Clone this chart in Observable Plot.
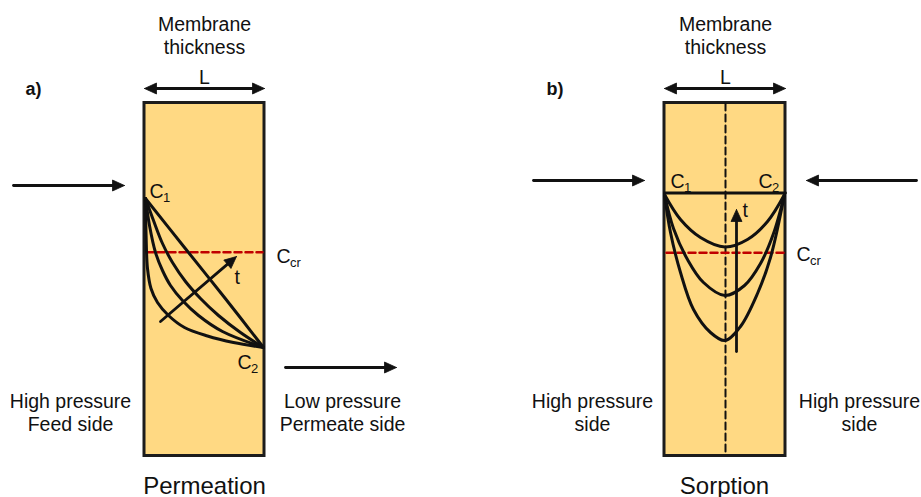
<!DOCTYPE html>
<html>
<head>
<meta charset="utf-8">
<script src="https://cdn.jsdelivr.net/npm/d3@7"></script>
<script src="https://cdn.jsdelivr.net/npm/@observablehq/plot@0.6"></script>
<style>
  html, body { margin: 0; padding: 0; background: #fff; }
  #chart svg { display: block; }
</style>
</head>
<body>
<div id="chart"></div>
<script>
// ---------- data (diagram units) ----------
const panelLabels = ["a)", "b)"];
const panelTitles = ["Permeation", "Sorption"];
const membraneLeft = [144, 664];
const membraneRight = [264, 785];
const membraneTop = 102.5;
const membraneBottom = 455.5;

// Permeation profiles (x, y) from C1 (feed face) to C2 (permeate face), increasing time
const permeationProfiles = [
  [[145,198],[145.6,235],[147,268],[150.5,288],[157,302],[168,315],[184,327],[207,335.5],[233,342],[263,347]],
  [[145,198],[149,225],[155,252],[162,270],[170,285],[182,300],[198,315],[222,331],[263,347]],
  [[145,198],[153,220],[162,243],[172,262],[185,281],[200,298],[218,315],[240,332],[263,347]],
  [[145,198],[184,247],[224,297],[263,347]]
];
// Sorption profiles, symmetric about membrane centre, increasing time (top one = latest)
const sorptionProfiles = [
  [[664,194],[670,232],[680,272],[693,309],[710,332],[724.5,340],[740,326],[757,293],[770,257],[784,194]],
  [[664,194],[673,228],[687,259],[703,282],[724.5,295],[744,285],[760,263],[773,233],[784,194]],
  [[664,194],[680,219],[700,237],[724.5,246.5],[747,239],[767,221],[784,194]]
];
const sorptionC1Line = [[664,192.5],[785,192.5]];
const criticalLevel = [251.7, 252.3];        // Ccr level in each panel
const centreLine = [[725,103],[725,455]];

// Arrows: [x1, y1, x2, y2] (tip at x2,y2)
const flowArrows = [
  [13,185,124,185],
  [285,367,396,367],
  [533,180,644,180],
  [916,180,806,180]
];
const timeArrows = [
  [160,321,236,256],
  [736,351,736,209]
];
const thicknessArrows = [
  [144,88,264,88],
  [664,88,785,88]
];

// Text labels
const labels = [
  // text, x, y(baseline), size, anchor, weight
  ["Membrane", 204, 30, 19.5, "middle", "normal"],
  ["thickness", 204, 53, 19.5, "middle", "normal"],
  ["L", 204, 83, 19.5, "middle", "normal"],
  ["Membrane", 725, 30, 19.5, "middle", "normal"],
  ["thickness", 725, 53, 19.5, "middle", "normal"],
  ["L", 725, 83, 19.5, "middle", "normal"],
  ["a)", 25, 94, 18, "start", "bold"],
  ["b)", 546, 94, 18, "start", "bold"],
  ["High pressure", 70, 407, 19.5, "middle", "normal"],
  ["Feed side", 70, 430, 19.5, "middle", "normal"],
  ["Low pressure", 342, 407, 19.5, "middle", "normal"],
  ["Permeate side", 342, 430, 19.5, "middle", "normal"],
  ["High pressure", 592, 407, 19.5, "middle", "normal"],
  ["side", 592, 430, 19.5, "middle", "normal"],
  ["High pressure", 859, 407, 19.5, "middle", "normal"],
  ["side", 859, 430, 19.5, "middle", "normal"],
  ["Permeation", 204, 493, 24, "middle", "normal"],
  ["Sorption", 724, 493, 24, "middle", "normal"],
  ["t", 234, 283, 19.5, "start", "normal"],
  ["t", 742, 216, 19.5, "start", "normal"],
  // concentration symbols
  ["C", 149, 197, 19.5, "start", "normal"],
  ["C", 237, 368, 19.5, "start", "normal"],
  ["C", 276, 262, 19.5, "start", "normal"],
  ["C", 670, 187, 19.5, "start", "normal"],
  ["C", 758, 187, 19.5, "start", "normal"],
  ["C", 796, 260, 19.5, "start", "normal"]
];
const subscripts = [
  ["1", 162.5, 201],
  ["2", 250.5, 372],
  ["cr", 289.5, 266],
  ["1", 683.5, 191],
  ["2", 771.5, 191],
  ["cr", 809.5, 264]
];

// ---------- helpers ----------
function headPolygon([x1,y1,x2,y2], len = 12, hw = 5.5) {
  const dx = x2 - x1, dy = y2 - y1, d = Math.hypot(dx, dy);
  const ux = dx / d, uy = dy / d;
  const bx = x2 - ux * len, by = y2 - uy * len;
  return [[x2,y2],[bx - uy*hw, by + ux*hw],[bx + uy*hw, by - ux*hw],[x2,y2]];
}
function shaft([x1,y1,x2,y2], len = 12, both = false) {
  const dx = x2 - x1, dy = y2 - y1, d = Math.hypot(dx, dy);
  const ux = dx / d, uy = dy / d;
  const s = both ? [x1 + ux*(len-1), y1 + uy*(len-1)] : [x1, y1];
  return [s, [x2 - ux*(len-1), y2 - uy*(len-1)]];
}
const toRows = (lists) => lists.flatMap((pts, i) => pts.map(([x,y]) => ({x, y, id: i})));

const singleArrows = [...flowArrows, ...timeArrows];
const heads = [
  ...singleArrows.map(a => headPolygon(a)),
  ...thicknessArrows.map(a => headPolygon(a)),
  ...thicknessArrows.map(([x1,y1,x2,y2]) => headPolygon([x2,y2,x1,y1]))
];
const shafts = [
  ...singleArrows.map(a => shaft(a)),
  ...thicknessArrows.map(a => shaft(a, 12, true))
];

const rects = membraneLeft.map((l, i) => ({x1: l, x2: membraneRight[i], y1: membraneTop, y2: membraneBottom}));
const critRows = criticalLevel.flatMap((y, i) => [{x: membraneLeft[i] + 2, y, id: i}, {x: membraneRight[i] - 2, y, id: i}]);
const labelRows = labels.map(([text, x, y, size, anchor, weight]) => ({text, x, y, size, anchor, weight}));
const subRows = subscripts.map(([text, x, y]) => ({text, x, y}));

const font = "Liberation Sans, Arial, Helvetica, sans-serif";
const textMarks = [];
for (const size of [...new Set(labelRows.map(d => d.size))]) {
  for (const anchor of ["start", "middle"]) {
    for (const weight of ["normal", "bold"]) {
      const rows = labelRows.filter(d => d.size === size && d.anchor === anchor && d.weight === weight);
      if (!rows.length) continue;
      textMarks.push(Plot.text(rows, {
        x: "x", y: "y", text: "text", fontSize: size, textAnchor: anchor,
        lineAnchor: "bottom", fontWeight: weight, fill: "#111", fontFamily: font
      }));
    }
  }
}

const chart = Plot.plot({
  width: 921,
  height: 497,
  margin: 0,
  x: {domain: [0, 921], range: [0, 921], axis: null},
  y: {domain: [0, 497], range: [0, 497], axis: null},
  style: {background: "#fff", fontFamily: font},
  marks: [
    Plot.rect(rects, {x1: "x1", x2: "x2", y1: "y1", y2: "y2", fill: "#FFD983", stroke: "#1c1c1c", strokeWidth: 3}),
    Plot.line(centreLine, {x: d => d[0], y: d => d[1], stroke: "#111", strokeWidth: 2, strokeDasharray: "7,4"}),
    Plot.line(critRows, {x: "x", y: "y", z: "id", stroke: "#C00000", strokeWidth: 2.5, strokeDasharray: "7,4"}),
    Plot.line(sorptionC1Line, {x: d => d[0], y: d => d[1], stroke: "#111", strokeWidth: 2.8}),
    Plot.line(toRows(permeationProfiles), {x: "x", y: "y", z: "id", curve: "catmull-rom", stroke: "#111", strokeWidth: 3}),
    Plot.line(toRows(sorptionProfiles), {x: "x", y: "y", z: "id", curve: "catmull-rom", stroke: "#111", strokeWidth: 3}),
    Plot.line(toRows(shafts), {x: "x", y: "y", z: "id", stroke: "#111", strokeWidth: 2.8}),
    Plot.line(toRows(heads), {x: "x", y: "y", z: "id", fill: "#111", stroke: "#111", strokeWidth: 0.8, strokeLinejoin: "miter"}),
    ...textMarks,
    Plot.text(subRows, {x: "x", y: "y", text: "text", fontSize: 13, textAnchor: "start", lineAnchor: "bottom", fill: "#111", fontFamily: font})
  ]
});
document.getElementById("chart").appendChild(chart);
</script>
</body>
</html>
